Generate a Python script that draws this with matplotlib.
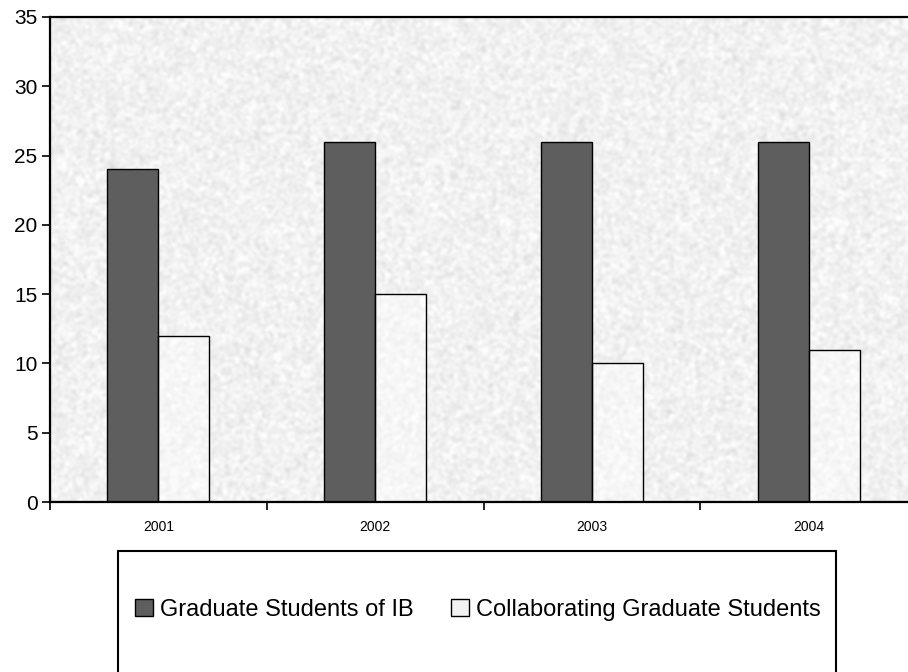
import numpy as np
import matplotlib.pyplot as plt
from matplotlib.patches import Rectangle, Patch

plt.rcParams['font.family'] = ['Liberation Sans', 'DejaVu Sans']

# data
years = ['2001', '2002', '2003', '2004']
ib_students = [24, 26, 26, 26]
collab_students = [12, 15, 10, 11]
series_names = ['Graduate Students of IB', 'Collaborating Graduate Students']
y_ticks = [0, 5, 10, 15, 20, 25, 30, 35]

fig = plt.figure(figsize=(9.08, 6.72), dpi=100)
ax = fig.add_axes([50/908, 170/672, 867/908, 485/672])

# granite-like background texture (decoration only)
rng = np.random.default_rng(3)
noise = rng.random((400, 700))
k = np.ones(3) / 3
for _ in range(2):
    noise = np.apply_along_axis(lambda r: np.convolve(r, k, mode='same'), 1, noise)
    noise = np.apply_along_axis(lambda c: np.convolve(c, k, mode='same'), 0, noise)
noise = (noise - noise.mean()) / noise.std()
tex = np.clip(0.945 + 0.02 * noise, 0.84, 0.99)
ax.imshow(tex, cmap='gray', vmin=0, vmax=1, extent=[-0.5, 3.5, 0, 35],
          aspect='auto', zorder=0, interpolation='bilinear')

x = np.arange(len(years))
w = 0.235
ax.bar(x - w/2, ib_students, w, color='#5e5e5e', edgecolor='black', linewidth=1, zorder=2)
ax.bar(x + w/2, collab_students, w, color='white', alpha=0.4, edgecolor='none', zorder=2)
ax.bar(x + w/2, collab_students, w, fill=False, edgecolor='black', linewidth=1, zorder=3)

ax.set_xlim(-0.5, 3.5)
ax.set_ylim(0, 35)
ax.set_yticks(y_ticks)
ax.tick_params(axis='y', labelsize=15, length=6, width=1.2, direction='out', pad=3)
ax.set_xticks(x)
ax.set_xticklabels(years, fontsize=10)
ax.tick_params(axis='x', length=0, pad=13)
ax.set_xticks(np.arange(-0.5, 4, 1), minor=True)
ax.tick_params(axis='x', which='minor', length=6, width=1.2, direction='out')

for s in ['left', 'bottom', 'top', 'right']:
    ax.spines[s].set_linewidth(1.6)

# legend box
fig.add_artist(Rectangle((118/908, -0.05), 718/908, (672 - 551)/672 + 0.05,
                         transform=fig.transFigure, fill=False, edgecolor='black',
                         linewidth=1.5))
handles = [Patch(facecolor='#5e5e5e', edgecolor='black'),
           Patch(facecolor='#f2f2f2', edgecolor='black')]
fig.legend(handles, series_names, loc='center', bbox_to_anchor=(478/908, 1 - 610/672),
           ncol=2, frameon=False, fontsize=17, handlelength=0.75, handleheight=0.75,
           handletextpad=0.3, columnspacing=1.6)

fig.savefig('out.png', dpi=100)
